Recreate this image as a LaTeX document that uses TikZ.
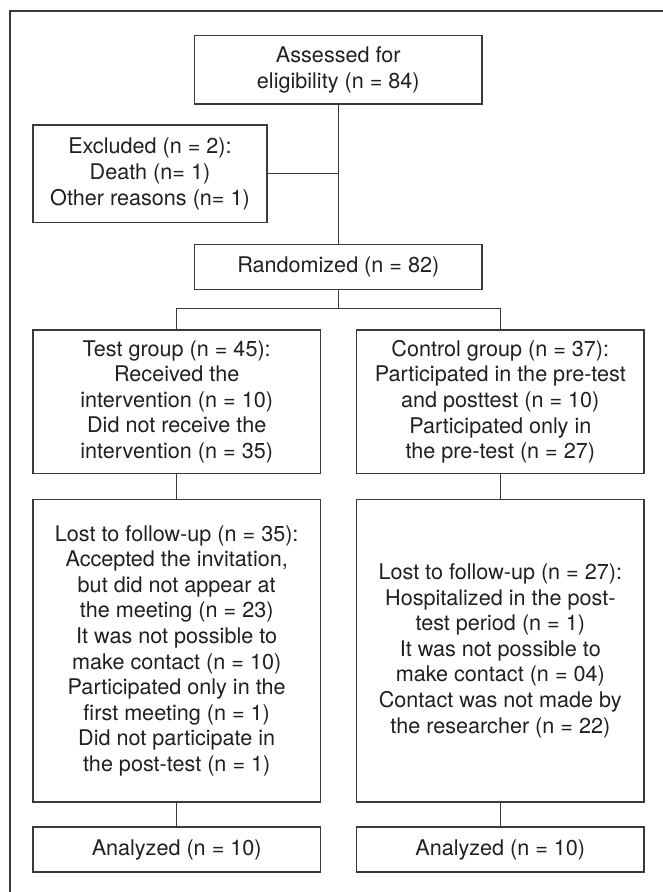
\documentclass[tikz,border=0pt]{standalone}
\usepackage{fontspec}
\setmainfont{TeX Gyre Heros}
\definecolor{inkc}{HTML}{231F20}
\definecolor{linec}{HTML}{3A3A3A}
\begin{document}
\begin{tikzpicture}[x=1pt,y=-1pt,
  box/.style={draw=linec,line width=1.2pt,inner sep=0pt,align=center,
    text=inkc,font=\fontsize{21.6}{25.6}\selectfont},
  conn/.style={draw=linec,line width=1pt},
  frame/.style={draw=linec,line width=1.6pt}]
\useasboundingbox (0,0) rectangle (663,892);
\draw[frame] (10,892) -- (10,11) -- (663,11);
\node[box,minimum width=287.5pt,minimum height=68.3pt] (assess) at (338.3,69.9)
  {Assessed for\\eligibility (n = 84)};
\node[box,minimum width=234pt,minimum height=97.7pt] (excl) at (150,173.9)
  {Excluded (n = 2):\\Death (n= 1)\\Other reasons (n= 1)};
\node[box,minimum width=287.5pt,minimum height=45.3pt] (rand) at (338.3,267)
  {Randomized (n = 82)};
\node[box,minimum width=287.3pt,minimum height=143.3pt] (test) at (176.7,401.7)
  {Test group (n = 45):\\Received the\\intervention (n = 10)\\Did not receive the\\intervention (n = 35)};
\node[box,minimum width=287.3pt,minimum height=143.3pt] (ctrl) at (500.3,401.7)
  {Control group (n = 37):\\Participated in the pre-test\\and posttest (n = 10)\\Participated only in\\the pre-test (n = 27)};
\node[box,minimum width=287.3pt,minimum height=302.7pt] (lostt) at (176.7,650.7)
  {Lost to follow-up (n = 35):\\Accepted the invitation,\\but did not appear at\\the meeting (n = 23)\\It was not possible to\\make contact (n = 10)\\Participated only in the\\first meeting (n = 1)\\Did not participate in\\the post-test (n = 1)};
\node[box,minimum width=287.3pt,minimum height=302.7pt] (lostc) at (500.3,650.7)
  {Lost to follow-up (n = 27):\\Hospitalized in the post-\\test period (n = 1)\\It was not possible to\\make contact (n = 04)\\Contact was not made by\\the researcher (n = 22)};
\node[box,minimum width=287.3pt,minimum height=45pt] (anat) at (176.7,849.5)
  {Analyzed (n = 10)};
\node[box,minimum width=287.3pt,minimum height=45pt] (anac) at (500.3,849.5)
  {Analyzed (n = 10)};
\coordinate (br) at (338.3,308.7);
\draw[conn] (assess) -- (rand);
\draw[conn] (excl.east) -- (excl.east -| assess.south);
\draw[conn] (rand) -- (br);
\draw[conn] (test.north) |- (br) -| (ctrl.north);
\draw[conn] (test) -- (lostt);
\draw[conn] (ctrl) -- (lostc);
\draw[conn] (lostt) -- (anat);
\draw[conn] (lostc) -- (anac);
\end{tikzpicture}
\end{document}
